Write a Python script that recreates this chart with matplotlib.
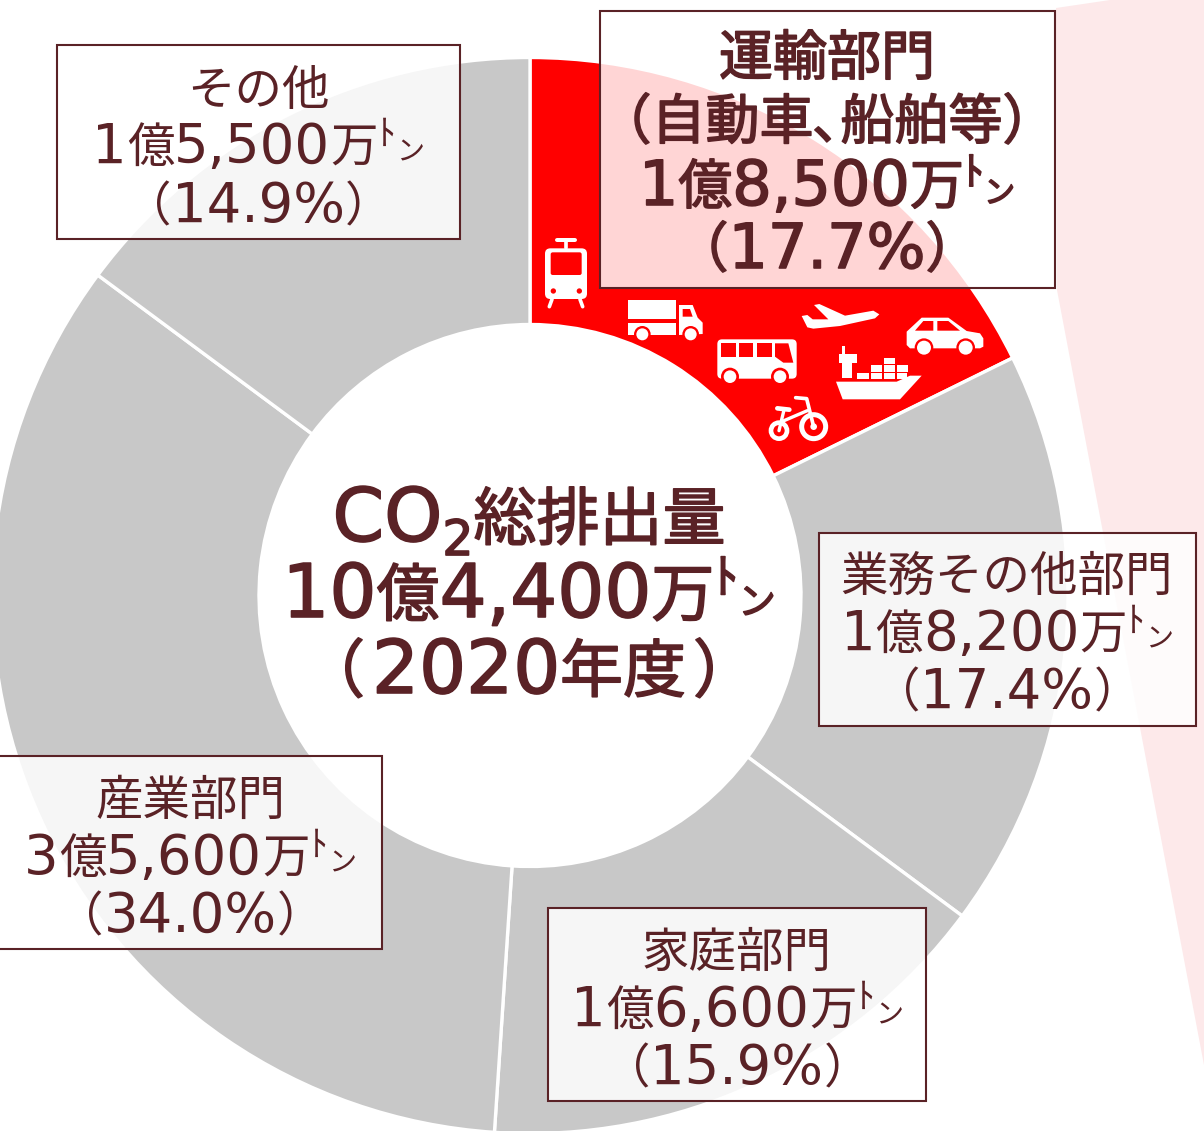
import matplotlib
matplotlib.use("Agg")
import matplotlib.pyplot as plt
import matplotlib.patheffects as pe
from matplotlib.patches import Polygon, Rectangle, Circle, FancyBboxPatch

W, H = 1204, 1131
# ---- data ----
categories = ["運輸部門", "業務その他部門", "家庭部門", "産業部門", "その他"]
emissions = [18500, 18200, 16600, 35600, 15500]   # 万トン
colors = ["#ff0000", "#c8c8c8", "#c8c8c8", "#c8c8c8", "#c8c8c8"]

center_lines = [["CO", "_2", "総排出量"], ["10", "億", "4,400", "万", "^ﾄ", "^ン"], ["（", "2020", "年度", "）"]]
label_transport = [["運輸部門"], ["（自動車､船舶等）"], ["1", "億", "8,500", "万", "^ﾄ", "^ン"], ["（", "17.7%", "）"]]
label_other = [["その他"], ["1", "億", "5,500", "万", "^ﾄ", "^ン"], ["（", "14.9%", "）"]]
label_business = [["業務その他部門"], ["1", "億", "8,200", "万", "^ﾄ", "^ン"], ["（", "17.4%", "）"]]
label_home = [["家庭部門"], ["1", "億", "6,600", "万", "^ﾄ", "^ン"], ["（", "15.9%", "）"]]
label_industry = [["産業部門"], ["3", "億", "5,600", "万", "^ﾄ", "^ン"], ["（", "34.0%", "）"]]

INK = "#5a2226"
LATIN = "DejaVu Sans"
CJK = "Noto Sans CJK JP"

fig = plt.figure(figsize=(W / 100, H / 100), dpi=100)
ax = fig.add_axes([0, 0, 1, 1])
CX, CY, R, RI = 530, 595.5, 538, 271

def Y(y):
    return H - y

# pink background wedge
ax.add_patch(Polygon([(1056, Y(8)), (1110, Y(0)), (1204, Y(0)), (1204, Y(1065)), (1057, Y(290))],
                     closed=True, fc="#fde9ea", ec="none", zorder=0))

ax.pie(emissions, colors=colors, startangle=90, counterclock=False, radius=R, center=(CX, Y(CY)),
       wedgeprops=dict(width=R - RI, edgecolor="white", linewidth=2.4), frame=True)
ax.set_xlim(0, W)
ax.set_ylim(0, H)
ax.set_aspect("equal")
ax.axis("off")

# ---- icons, in 3x-zoom coordinates of the region starting at (530, 220)
def zp(x, y):
    return 530 + x / 3, Y(220 + y / 3)

def poly(pts, c="white", z=3):
    ax.add_patch(Polygon([zp(*p) for p in pts], closed=True, fc=c, ec="none", zorder=z))

def rect(x0, y0, x1, y1, c="white", z=3):
    poly([(x0, y0), (x1, y0), (x1, y1), (x0, y1)], c, z)

def rrect(x0, y0, x1, y1, r, c="white", z=3):
    a = zp(x0, y1)
    ax.add_patch(FancyBboxPatch((a[0] + r / 3, a[1] + r / 3), (x1 - x0 - 2 * r) / 3, (y1 - y0 - 2 * r) / 3,
                                boxstyle=f"round,pad={r / 3},rounding_size={r / 3}", fc=c, ec="none", zorder=z))

def circ(x, y, r, c="white", z=3, lw=None):
    if lw is None:
        ax.add_patch(Circle(zp(x, y), r / 3, fc=c, ec="none", zorder=z))
    else:
        ax.add_patch(Circle(zp(x, y), r / 3, fc="none", ec=c, lw=lw / 3 * 0.72, zorder=z))

def seg(pts, w, c="white", z=3):
    xs, ys = zip(*[zp(*p) for p in pts])
    ax.plot(xs, ys, color=c, lw=w / 3 * 0.72, solid_capstyle="round", zorder=z)

# train
rrect(45, 85, 171, 237, 16)
rrect(62, 97, 155, 165, 6, "#ff0000")
seg([(82, 61), (135, 61)], 12)
seg([(108, 61), (108, 85)], 11)
circ(70, 213, 8, "#ff0000")
circ(148, 213, 8, "#ff0000")
seg([(66, 238), (58, 260)], 11)
seg([(150, 238), (158, 260)], 11)
# truck
rect(295, 240, 438, 298)
rect(295, 310, 438, 345)
poly([(447, 255), (488, 255), (503, 293), (518, 308), (518, 342), (447, 345)])
poly([(458, 267), (480, 267), (488, 290), (458, 290)], "#ff0000")
for x in (337, 482):
    circ(x, 343, 25, "#ff0000")
    circ(x, 343, 18)
# bus
rrect(562, 358, 800, 476, 14)
rect(574, 370, 617, 412, "#ff0000")
rect(628, 370, 670, 412, "#ff0000")
rect(682, 370, 725, 412, "#ff0000")
poly([(735, 370), (775, 370), (790, 428), (760, 428), (735, 410)], "#ff0000")
for x in (600, 750):
    circ(x, 470, 27, "#ff0000")
    circ(x, 470, 19)
# plane
poly([(815, 288), (832, 285), (848, 298), (895, 298), (852, 255), (868, 252), (945, 287), (1030, 272),
      (1048, 283), (1035, 295), (930, 318), (850, 326), (832, 322)])
# car
poly([(1130, 335), (1175, 293), (1255, 293), (1310, 333), (1350, 340), (1360, 355), (1360, 380), (1350, 385),
      (1140, 385), (1130, 375)])
poly([(1155, 332), (1180, 303), (1210, 303), (1210, 332)], "#ff0000")
poly([(1222, 303), (1255, 303), (1290, 332), (1222, 332)], "#ff0000")
for x in (1182, 1307):
    circ(x, 383, 28, "#ff0000")
    circ(x, 383, 21)
# ship
poly([(918, 485), (1100, 485), (1140, 467), (1175, 467), (1110, 538), (938, 538)])
rect(937, 430, 965, 475)
rect(927, 403, 980, 430)
rect(937, 378, 944, 403)
for x0, x1, y0, y1 in [(982, 1017, 460, 476), (1022, 1057, 460, 476), (1062, 1096, 460, 476), (1100, 1130, 460, 476),
                       (1022, 1057, 436, 456), (1062, 1096, 436, 456), (1100, 1133, 436, 456), (1062, 1096, 414, 432)]:
    rect(x0, y0, x1, y1)
# bicycle
circ(851, 620, 36, lw=15)
circ(851, 620, 10)
circ(747, 632, 24, lw=14)
seg([(797, 533), (830, 536), (851, 620)], 11)
seg([(742, 565), (778, 569)], 14)
seg([(762, 570), (747, 632)], 10)
seg([(755, 605), (832, 572)], 10)

# ---- text runs
def draw_line(cx, base, runs, s_lat, s_cjk, s_to, stroke=0.0, paren_gap=0.0):
    """Lay one text line out of runs of Latin / CJK text, centred on cx."""
    rnd = fig.canvas.get_renderer()
    items = []
    total = 0
    for i, run in enumerate(runs):
        gap = 0
        if run.startswith("^"):
            t = run[1:]
            fam = CJK
            size = s_to if t == "ﾄ" else s_to * 0.78
            dy = s_to * (0.50 if t == "ﾄ" else 0.06)
        elif run.startswith("_"):
            t = run[1:]
            fam, size = LATIN, s_lat * 0.66
            dy = -s_lat * 0.19
        elif run[0] in "0123456789C":
            t, fam, size, dy = run, LATIN, s_lat, 0
        else:
            t, fam, size, dy = run, CJK, s_cjk, s_cjk * 0.02
        if t == "（" or (i + 1 < len(runs) and runs[i + 1] == "）"):
            gap = paren_gap
        txt = ax.text(0, Y(base) + dy, t, fontsize=size * 0.72, family=fam, va="baseline", ha="left",
                      color=INK, zorder=6)
        if stroke:
            txt.set_path_effects([pe.withStroke(linewidth=stroke * 0.72, foreground=INK)])
        w = txt.get_window_extent(rnd).width
        items.append((txt, w, gap))
        total += w + gap
    x = cx - total / 2
    for txt, w, gap in items:
        txt.set_x(x)
        x += w + gap

def box(x0, y0, x1, y1):
    ax.add_patch(Rectangle((x0, Y(y1)), x1 - x0, y1 - y0, fc=(1, 1, 1, 0.84), ec=INK, lw=1.5, zorder=5))

def block(lines, cx, bases, s_lat, s_cjk, s_to, stroke=0.0, paren_gap=0.0):
    for runs, b in zip(lines, bases):
        draw_line(cx, b, runs, s_lat, s_cjk, s_to, stroke, paren_gap)

fig.canvas.draw()

box(600, 11, 1055, 288)
box(57, 45, 460, 239)
box(819, 533, 1196, 726)
box(548, 908, 926, 1101)
box(-3, 756, 382, 949)

block(center_lines, 529, [541, 617, 693], 74, 63, 48, 1.6, 7)
block(label_transport, 827, [76, 140, 205, 268], 62, 54, 40, 1.6)
block(label_other, 258, [106, 163, 222], 54.5, 47.5, 36)
block(label_business, 1007, [592, 650, 708], 54.5, 47.5, 36)
block(label_home, 737, [968, 1026, 1084], 54.5, 47.5, 36)
block(label_industry, 190, [816, 874, 932], 54.5, 47.5, 36)

fig.savefig("out.png", dpi=100)
